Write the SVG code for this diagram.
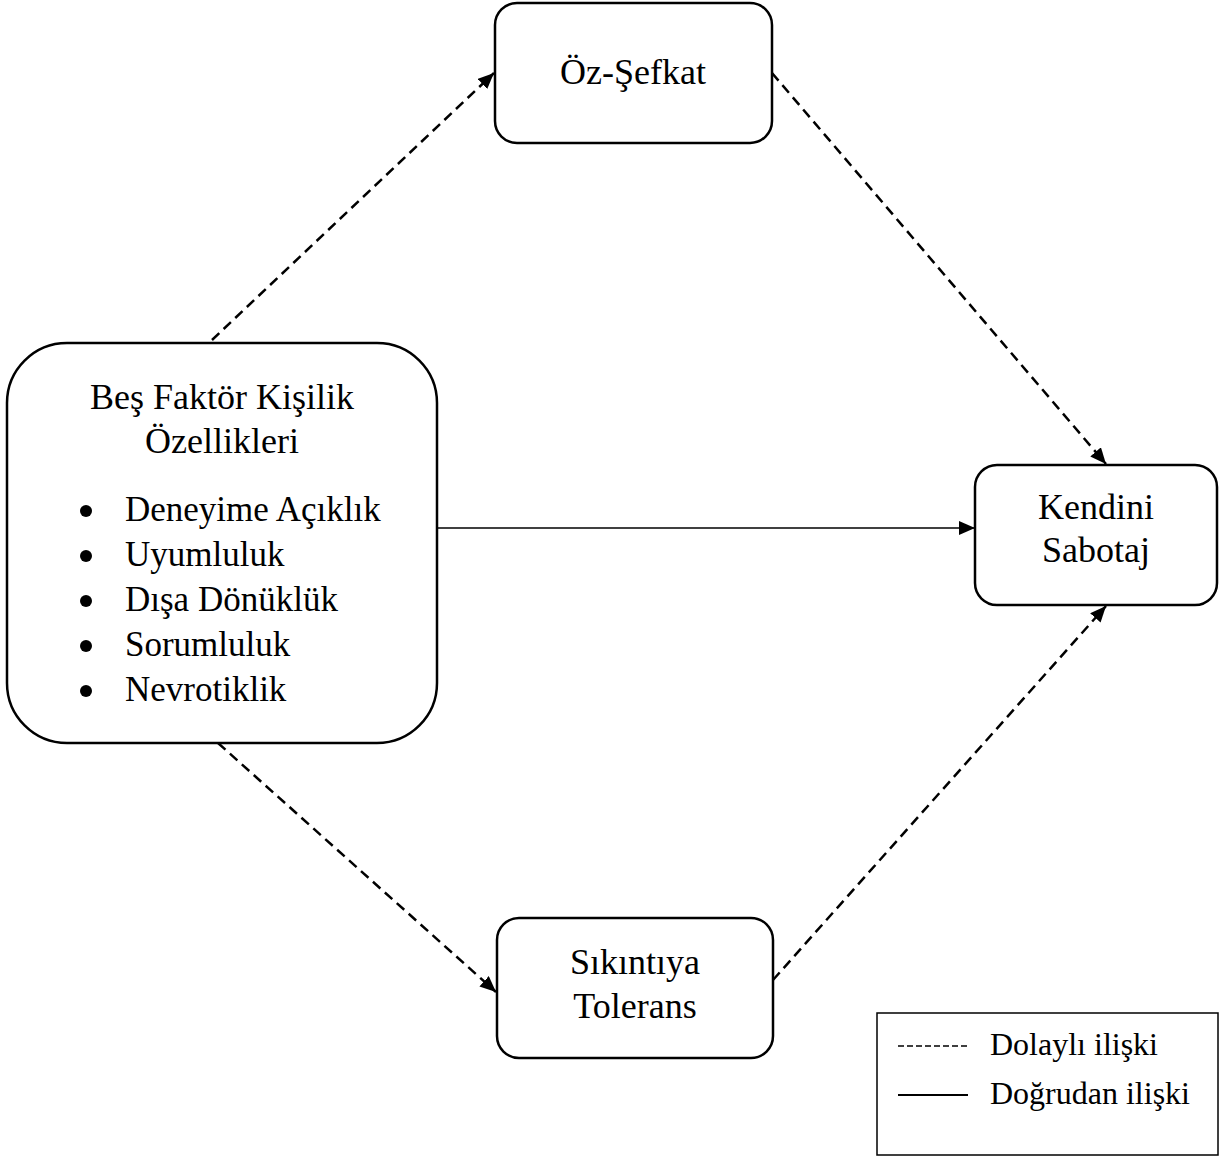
<svg xmlns="http://www.w3.org/2000/svg" width="1228" height="1157" viewBox="0 0 1228 1157">
  <style>
    .node { fill: #ffffff; stroke: #000000; stroke-width: 2.5; }
    .label { font-family: "Liberation Serif", "Times New Roman", serif; font-size: 36px; fill: #000000; text-anchor: middle; }
    .item { font-family: "Liberation Serif", "Times New Roman", serif; font-size: 35px; fill: #000000; }
    .legend-text { font-family: "Liberation Serif", "Times New Roman", serif; font-size: 32px; fill: #000000; }
    .indirect { fill: none; stroke: #000000; stroke-width: 2.5; stroke-dasharray: 10 6; }
    .direct { fill: none; stroke: #000000; stroke-width: 1.5; }
  </style>
  <defs>
    <marker id="head" viewBox="0 0 16 14" refX="16" refY="7" markerWidth="16" markerHeight="14" markerUnits="userSpaceOnUse" orient="auto">
      <path d="M0,0 L16,7 L0,14 Z" fill="#000000"/>
    </marker>
  </defs>

  <rect width="1228" height="1157" fill="#ffffff"/>

  <!-- connectors -->
  <g id="connectors">
    <line class="indirect" x1="212" y1="340" x2="494" y2="73" marker-end="url(#head)"/>
    <line class="indirect" x1="772" y1="73" x2="1106" y2="464" marker-end="url(#head)"/>
    <line class="direct" x1="437" y1="528" x2="975" y2="528" marker-end="url(#head)"/>
    <line class="indirect" x1="218" y1="743" x2="496" y2="992" marker-end="url(#head)"/>
    <line class="indirect" x1="773" y1="980" x2="1106" y2="606" marker-end="url(#head)"/>
  </g>

  <!-- Big Five personality traits -->
  <g id="node-bes-faktor">
    <rect class="node" x="7" y="343" width="430" height="400" rx="60" ry="60"/>
    <text class="label" x="222" y="409">Beş Faktör Kişilik</text>
    <text class="label" x="222" y="453">Özellikleri</text>
    <g fill="#000000">
      <circle cx="86" cy="511" r="6"/>
      <circle cx="86" cy="556" r="6"/>
      <circle cx="86" cy="601" r="6"/>
      <circle cx="86" cy="646" r="6"/>
      <circle cx="86" cy="691" r="6"/>
    </g>
    <text class="item" x="125" y="521">Deneyime Açıklık</text>
    <text class="item" x="125" y="566">Uyumluluk</text>
    <text class="item" x="125" y="611">Dışa Dönüklük</text>
    <text class="item" x="125" y="656">Sorumluluk</text>
    <text class="item" x="125" y="701">Nevrotiklik</text>
  </g>

  <g id="node-oz-sefkat">
    <rect class="node" x="495" y="3" width="277" height="140" rx="22" ry="22"/>
    <text class="label" x="633" y="84">Öz-Şefkat</text>
  </g>

  <g id="node-kendini-sabotaj">
    <rect class="node" x="975" y="465" width="242" height="140" rx="22" ry="22"/>
    <text class="label" x="1096" y="519">Kendini</text>
    <text class="label" x="1096" y="562">Sabotaj</text>
  </g>

  <g id="node-sikintiya-tolerans">
    <rect class="node" x="497" y="918" width="276" height="140" rx="22" ry="22"/>
    <text class="label" x="635" y="974">Sıkıntıya</text>
    <text class="label" x="635" y="1018">Tolerans</text>
  </g>

  <!-- legend -->
  <g id="legend">
    <rect x="877" y="1013" width="341" height="142" fill="#ffffff" stroke="#000000" stroke-width="1.5"/>
    <line x1="898" y1="1046" x2="968" y2="1046" stroke="#000000" stroke-width="1.5" stroke-dasharray="6 3"/>
    <text class="legend-text" x="990" y="1055">Dolaylı ilişki</text>
    <line x1="898" y1="1095" x2="968" y2="1095" stroke="#000000" stroke-width="1.8"/>
    <text class="legend-text" x="990" y="1104">Doğrudan ilişki</text>
  </g>
</svg>
